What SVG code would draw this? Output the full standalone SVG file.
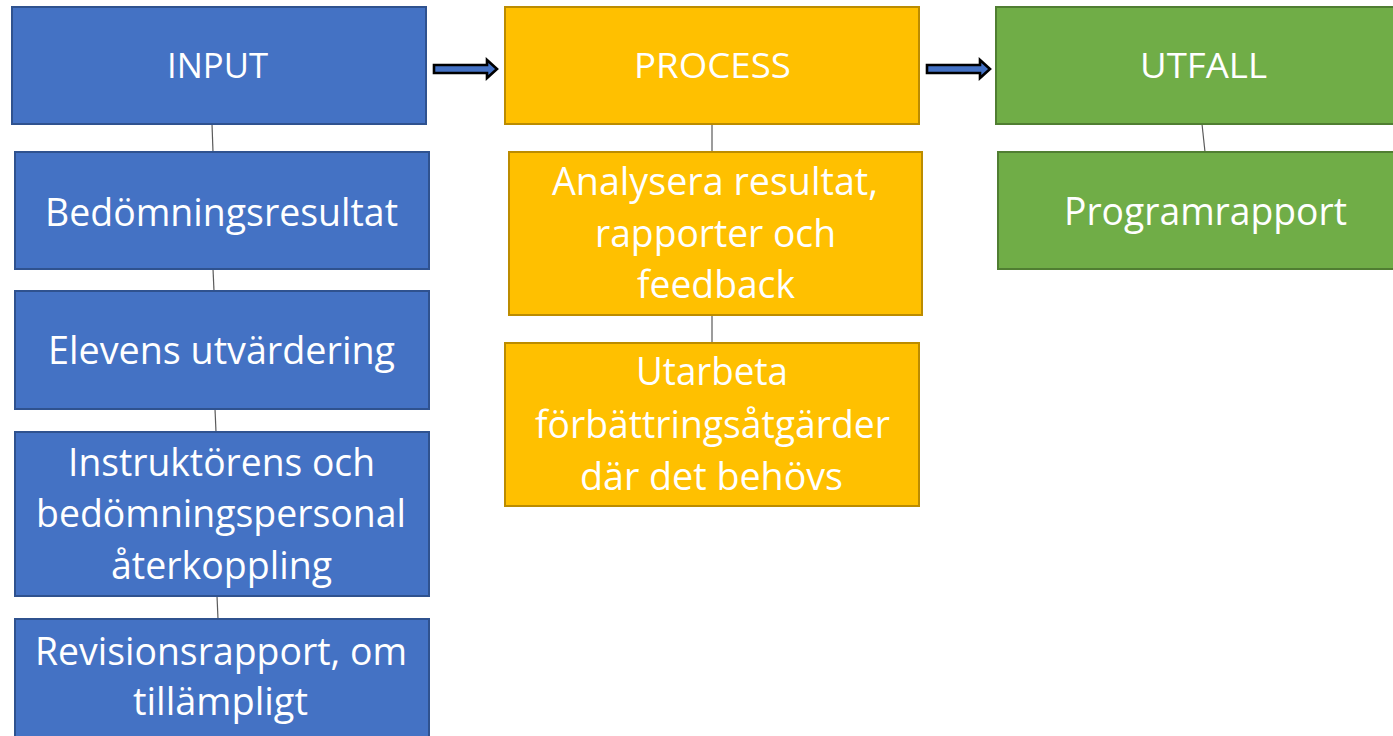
<svg xmlns="http://www.w3.org/2000/svg" width="1393" height="736" viewBox="0 0 1393 736">
<style>
.blue{fill:#4472C4;stroke:#2F528F;stroke-width:2}
.yel{fill:#FFC000;stroke:#BC8C00;stroke-width:2}
.grn{fill:#70AD47;stroke:#507E32;stroke-width:2}
.t{font-family:"Open Sans","Noto Sans","Liberation Sans",sans-serif;fill:#FFFFFF;font-size:39px;text-anchor:middle}
.h{font-size:35px}
.c{stroke:#5a5a5a;stroke-width:1.2;fill:none}
.arr{fill:#4472C4;stroke:#000000;stroke-width:2.6;stroke-linejoin:miter}
</style>
<rect width="1393" height="736" fill="#FFFFFF"/>
<g id="connectors">
<line class="c" x1="212" y1="124" x2="213" y2="152"/>
<line class="c" x1="213" y1="269" x2="214" y2="291"/>
<line class="c" x1="215" y1="409" x2="216" y2="432"/>
<line class="c" x1="217" y1="596" x2="218" y2="619"/>
<line class="c" x1="712" y1="124" x2="712" y2="152"/>
<line class="c" x1="712" y1="315" x2="712" y2="343"/>
<line class="c" x1="1202" y1="124" x2="1205" y2="152"/>
<path id="arrow1" class="arr" d="M434,65 L487,65 L487,60 L497,69 L487,78 L487,73 L434,73 Z"/>
<path id="arrow2" class="arr" d="M927,65 L980,65 L980,60 L990,69 L980,78 L980,73 L927,73 Z"/>
</g>
<g id="input">
<rect class="blue" x="12" y="7" width="414" height="117"/>
<text class="t h" x="217.5" y="78" textLength="101" lengthAdjust="spacingAndGlyphs">INPUT</text>
</g>
<g id="bedomningsresultat">
<rect class="blue" x="15" y="152" width="414" height="117"/>
<text class="t" x="221.5" y="226" textLength="353" lengthAdjust="spacingAndGlyphs">Bedömningsresultat</text>
</g>
<g id="elevens">
<rect class="blue" x="15" y="291" width="414" height="118"/>
<text class="t" x="221.5" y="364" textLength="347" lengthAdjust="spacingAndGlyphs">Elevens utvärdering</text>
</g>
<g id="instruktorens">
<rect class="blue" x="15" y="432" width="414" height="164"/>
<text class="t" x="221.5" y="476" textLength="307" lengthAdjust="spacingAndGlyphs">Instruktörens och</text>
<text class="t" x="221" y="527" textLength="370" lengthAdjust="spacingAndGlyphs">bedömningspersonal</text>
<text class="t" x="221.5" y="579" textLength="221" lengthAdjust="spacingAndGlyphs">återkoppling</text>
</g>
<g id="revisionsrapport">
<rect class="blue" x="15" y="619" width="414" height="130"/>
<text class="t" x="221" y="665" textLength="372" lengthAdjust="spacingAndGlyphs">Revisionsrapport, om</text>
<text class="t" x="220.5" y="715" textLength="175" lengthAdjust="spacingAndGlyphs">tillämpligt</text>
</g>
<g id="process">
<rect class="yel" x="505" y="7" width="414" height="117"/>
<text class="t h" x="712.5" y="78" textLength="157" lengthAdjust="spacingAndGlyphs">PROCESS</text>
</g>
<g id="analysera">
<rect class="yel" x="509" y="152" width="413" height="163"/>
<text class="t" x="715" y="195" textLength="326" lengthAdjust="spacingAndGlyphs">Analysera resultat,</text>
<text class="t" x="715.5" y="247" textLength="241" lengthAdjust="spacingAndGlyphs">rapporter och</text>
<text class="t" x="716" y="298" textLength="158" lengthAdjust="spacingAndGlyphs">feedback</text>
</g>
<g id="utarbeta">
<rect class="yel" x="505" y="343" width="414" height="163"/>
<text class="t" x="712" y="385" textLength="152" lengthAdjust="spacingAndGlyphs">Utarbeta</text>
<text class="t" x="712.5" y="438" textLength="355" lengthAdjust="spacingAndGlyphs">förbättringsåtgärder</text>
<text class="t" x="711.5" y="490" textLength="263" lengthAdjust="spacingAndGlyphs">där det behövs</text>
</g>
<g id="utfall">
<rect class="grn" x="996" y="7" width="415" height="117"/>
<text class="t h" x="1203.5" y="78" textLength="127" lengthAdjust="spacingAndGlyphs">UTFALL</text>
</g>
<g id="programrapport">
<rect class="grn" x="998" y="152" width="415" height="117"/>
<text class="t" x="1205.5" y="225" textLength="283" lengthAdjust="spacingAndGlyphs">Programrapport</text>
</g>
</svg>
